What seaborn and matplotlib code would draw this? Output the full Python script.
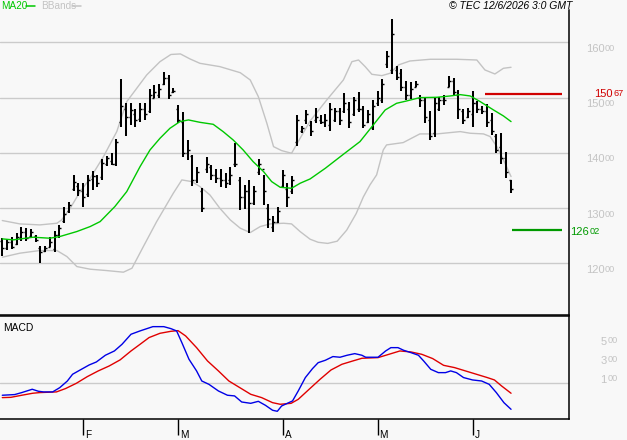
import numpy as np
import pandas as pd
import matplotlib
matplotlib.use("Agg")
import matplotlib.pyplot as plt
import matplotlib.transforms as mtransforms
import seaborn as sns

# ---------------- data ----------------
month_labels = ["F", "M", "A", "M", "J"]
month_pos = [17, 37, 59, 79, 99]

bar_high = [12450, 12435, 12470, 12555, 12650, 12630, 12615, 12515, 12315, 12315,
            12470, 12590, 12695, 13015, 13115, 13600, 13450, 13460, 13600, 13675,
            13600, 13880, 13950, 13990, 14245, 15335, 14895, 14910, 14790, 14895,
            14895, 15150, 15230, 15245, 15470, 15410, 15165, 14865, 14745, 14235,
            13960, 13750, 13360, 13920, 13780, 13700, 13700, 13640, 13740, 14185,
            13555, 13420, 13510, 13400, 13885, 13600, 13075, 12860, 13015, 13680,
            13460, 13580, 14685, 14490, 14770, 14575, 14805, 14685, 14700, 14895,
            14805, 14820, 15075, 14915, 15015, 15105, 14855, 14775, 14960, 15110,
            15335, 15840, 16420, 15575, 15510, 15300, 15290, 15305, 15047, 15005,
            14765, 15005, 15005, 15050, 15390, 15350, 15135, 14800, 14815, 15115,
            14940, 14848, 14875, 14728, 14335, 14365, 14010, 13515]
bar_low = [12130, 12240, 12255, 12330, 12410, 12395, 12470, 12380, 12000, 12210,
           12290, 12210, 12455, 12735, 12905, 13300, 13220, 13025, 13205, 13325,
           13390, 13510, 13770, 13780, 13760, 14475, 14305, 14505, 14475, 14565,
           14595, 14715, 14985, 14985, 15230, 14970, 15075, 14535, 13930, 13870,
           13400, 13450, 12920, 13630, 13510, 13450, 13390, 13360, 13420, 13740,
           12965, 12980, 12555, 13055, 13600, 13055, 12635, 12575, 12725, 13360,
           13025, 13255, 14125, 14355, 14530, 14310, 14535, 14515, 14475, 14395,
           14550, 14505, 14715, 14455, 14675, 14735, 14455, 14535, 14410, 14845,
           14910, 15530, 15425, 15320, 15125, 14950, 14980, 15190, 14830, 14547,
           14235, 14295, 14765, 14860, 15185, 15020, 14607, 14515, 14625, 14475,
           14720, 14695, 14475, 14330, 14004, 13805, 13540, 13268]
bar_open = [12400, 12280, 12380, 12350, 12450, 12560, 12500, 12500, 12280, 12230,
            12300, 12250, 12520, 12760, 12950, 13350, 13400, 13300, 13250, 13520,
            13580, 13560, 13800, 13850, 13800, 14550, 14800, 14650, 14700, 14620,
            14800, 14750, 15000, 15050, 15250, 15350, 15100, 14800, 14550, 14000,
            13950, 13500, 13300, 13700, 13750, 13600, 13550, 13500, 13500, 13800,
            13500, 13200, 13300, 13100, 13650, 13700, 13000, 12650, 12750, 13400,
            13350, 13300, 14200, 14400, 14600, 14500, 14600, 14600, 14550, 14500,
            14600, 14750, 14750, 14800, 14700, 14800, 14800, 14550, 14450, 14900,
            14950, 15600, 15500, 15500, 15450, 15200, 15050, 15200, 15000, 14950,
            14600, 14350, 14800, 14950, 15200, 15300, 15050, 14750, 14650, 14700,
            14900, 14800, 14750, 14600, 14300, 14100, 13900, 13500]
bar_close = [12280, 12380, 12300, 12480, 12560, 12450, 12560, 12430, 12200, 12280,
             12380, 12520, 12640, 12900, 13050, 13480, 13320, 13200, 13500, 13580,
             13450, 13820, 13900, 13800, 14200, 14850, 14650, 14780, 14600, 14800,
             14700, 15050, 15100, 15150, 15350, 15050, 15120, 14600, 14000, 14050,
             13500, 13650, 13000, 13800, 13600, 13550, 13500, 13450, 13600, 13800,
             13200, 13300, 13100, 13300, 13800, 13300, 12800, 12750, 12950, 13600,
             13200, 13500, 14600, 14450, 14700, 14400, 14650, 14550, 14600, 14800,
             14750, 14600, 14900, 14550, 14950, 14800, 14500, 14700, 14850, 15000,
             15250, 15750, 16150, 15380, 15200, 15050, 15150, 15250, 14950, 14650,
             14300, 14900, 14950, 14950, 15300, 15100, 14800, 14600, 14750, 14900,
             14800, 14750, 14550, 14400, 14050, 13900, 13650, 13350]

ma20_x = [0, 2.3, 6.5, 10, 12.1, 15.7, 18.5, 20.6, 23.7, 26.2, 29, 31.1, 33.2, 35.3,
          37.4, 39.2, 41.6, 44.4, 46.5, 48.6, 50.7, 52.8, 55, 56.7, 58.5, 60.9, 62.7,
          64.8, 68, 71.8, 75.3, 78.1, 80.6, 83, 85.1, 87.9, 91.5, 94.3, 96.4, 98.5,
          100.6, 103.4, 105.5, 107.1]
ma20_y = [12442, 12424, 12472, 12454, 12484, 12575, 12665, 12755, 13027, 13298, 13750,
          14052, 14263, 14444, 14565, 14595, 14552, 14516, 14383, 14233, 14052, 13841,
          13660, 13479, 13376, 13358, 13449, 13527, 13720, 13973, 14203, 14504, 14775,
          14896, 14938, 14999, 15005, 15029, 15053, 15029, 14927, 14776, 14667, 14565]

bb_up_x = [0, 3.7, 7.9, 11.5, 12.5, 14.3, 16.4, 18.5, 21.3, 24.1, 26.2, 28.3, 30.4,
           33.2, 35.5, 37.5, 39.5, 41.6, 45.8, 50.1, 52.2, 53.9, 55.7, 57.1, 58.8,
           60.9, 62.7, 64.8, 68.3, 71.8, 73.6, 75, 76.4, 77.8, 79.9, 81.6, 83.4, 85.8,
           90.1, 95.7, 99.9, 101.6, 103.7, 105.5, 107.1]
bb_up_y = [12774, 12713, 12695, 12725, 12786, 12997, 13298, 13539, 13931, 14384, 14926,
           15167, 15409, 15650, 15780, 15790, 15700, 15620, 15560, 15450, 15318, 15017,
           14534, 14112, 14040, 13992, 14263, 14576, 14956, 15318, 15650, 15680, 15559,
           15421, 15397, 15439, 15590, 15662, 15693, 15693, 15680, 15500, 15427, 15530,
           15548]

bb_lo_x = [0, 3.7, 7.9, 11.5, 13.6, 15.7, 18.5, 21.9, 25.5, 27.3, 29.7, 32.5, 36,
           37.8, 39.9, 41.6, 43.7, 45.8, 48, 50.1, 52.2, 54.3, 56.4, 59.2, 60.9, 62.7,
           64.8, 66.5, 68.5, 70.5, 72.5, 74.5, 76, 77.4, 78.8, 80.2, 80.9, 84.4, 87.9,
           91.5, 96.4, 98.5, 101.3, 102.7, 104.1, 105.5, 107.1]
bb_lo_y = [12110, 12183, 12231, 12231, 12122, 11941, 11893, 11869, 11839, 11911, 12303,
           12755, 13268, 13509, 13479, 13389, 13238, 12996, 12785, 12635, 12556, 12665,
           12713, 12725, 12713, 12574, 12436, 12380, 12360, 12400, 12600, 12900, 13200,
           13419, 13600, 14052, 14143, 14185, 14342, 14342, 14384, 14354, 14342, 14294,
           14113, 13871, 13570]

macd_x = [0, 2.6, 4.1, 6.3, 7.6, 8.7, 10.6, 12.1, 13.7, 14.8, 16.4, 18.3, 19.8, 21.7,
          23.6, 25.2, 27.1, 29.0, 31.7, 34.0, 35.5, 36.7, 37.8, 39.3, 40.9, 42.0, 43.5,
          45.5, 47.4, 48.9, 50.4, 52.3, 53.9, 55.4, 56.9, 57.9, 58.8, 60.0, 61.1, 62.3,
          63.8, 65.3, 66.5, 68.0, 69.6, 71.1, 72.6, 74.2, 75.7, 76.5, 79.1, 80.7, 81.8,
          83.3, 84.5, 86.0, 87.6, 88.7, 90.2, 91.8, 93.3, 94.4, 95.6, 97.1, 99.0, 100.9,
          102.5, 104.0, 105.6, 107.1]
macd_y = [-26, -19, 2, 37, 16, 9, 9, 54, 124, 195, 240, 293, 324, 395, 440, 510, 616,
          651, 696, 696, 675, 651, 528, 353, 230, 124, 89, 19, -26, -33, -97, -111, -90,
          -132, -184, -195, -139, -111, -86, 19, 160, 254, 317, 342, 381, 374, 395, 412,
          395, 374, 374, 440, 475, 475, 447, 423, 395, 335, 247, 212, 212, 230, 212, 160,
          135, 124, 89, 2, -104, -174]

signal_x = [0, 1.8, 4.1, 6.4, 7.9, 11.4, 13.3, 15.6, 17.9, 20.2, 22.5, 24.8, 27.1, 29.0,
            30.9, 33.2, 35.5, 37.0, 38.6, 40.9, 43.2, 45.5, 47.7, 50.0, 52.3, 54.6, 56.9,
            58.5, 60.8, 62.3, 64.6, 66.9, 69.2, 71.5, 73.8, 75.7, 79.1, 81.4, 83.7, 86.0,
            88.3, 90.6, 92.9, 95.2, 97.5, 99.8, 102.1, 103.6, 105.1, 107.1]
signal_y = [-51, -48, -26, -5, 2, 9, 44, 100, 170, 230, 282, 346, 440, 510, 581, 626,
            647, 654, 598, 475, 335, 230, 124, 54, -16, -51, -104, -121, -111, -69, 37,
            142, 240, 300, 335, 363, 370, 405, 440, 430, 405, 360, 289, 265, 230, 195, 160,
            135, 72, -5]

price_ticks = [12000, 13000, 14000, 15000, 16000]
macd_ticks = [100, 300, 500]
level_resistance = 15067
level_support = 12602

# ---------------- styling ----------------
sns.set_style("white")
from matplotlib import font_manager
_names = {f.name for f in font_manager.fontManager.ttflist}
FONT = "Liberation Sans" if "Liberation Sans" in _names else "DejaVu Sans"
plt.rcParams["font.family"] = [FONT, "DejaVu Sans"]

BG = "#f8f8f8"
GRID = "#cbcbcb"
LBL = "#c4c4c4"
FS_MAIN = 8.0
FS_SUP = 6.6

W, H = 627, 440
fig = plt.figure(figsize=(W / 100, H / 100), dpi=100, facecolor=BG)
ax = fig.add_axes([0, (H - 315) / H, 569 / W, 305 / H], facecolor=BG)
ax2 = fig.add_axes([0, (H - 419) / H, 569 / W, 103 / H], facecolor=BG)

xlim = (-0.48, 119.3)

# --- main panel ---
for v in price_ticks:
    ax.axhline(v, color=GRID, lw=1, zorder=0)

df_up = pd.DataFrame({"x": bb_up_x, "y": bb_up_y})
df_lo = pd.DataFrame({"x": bb_lo_x, "y": bb_lo_y})
df_ma = pd.DataFrame({"x": ma20_x, "y": ma20_y})
sns.lineplot(data=df_up, x="x", y="y", ax=ax, color="#c3c3c3", lw=1, legend=False,
             estimator=None, sort=False, zorder=1)
sns.lineplot(data=df_lo, x="x", y="y", ax=ax, color="#c3c3c3", lw=1, legend=False,
             estimator=None, sort=False, zorder=1)

idx = np.arange(len(bar_high))
ax.vlines(idx, bar_low, bar_high, color="black", lw=1.45, zorder=3)
ax.hlines(bar_open, idx - 0.42, idx, color="black", lw=1.0, zorder=3)
ax.hlines(bar_close, idx, idx + 0.42, color="black", lw=1.0, zorder=3)

sns.lineplot(data=df_ma, x="x", y="y", ax=ax, color="#00c800", lw=1, legend=False,
             estimator=None, sort=False, zorder=4)

ax.hlines(level_resistance, 101.6, 117.8, color="#d00000", lw=1.6, zorder=5)
ax.hlines(level_support, 107.3, 117.8, color="#009a00", lw=1.6, zorder=5)

ax.set_xlim(*xlim)
ax.set_ylim(11064, 16585)
ax.set_xticks([])
ax.set_yticks([])
ax.set_xlabel("")
ax.set_ylabel("")
for s in ["top", "left"]:
    ax.spines[s].set_visible(False)
for s in ["right", "bottom"]:
    ax.spines[s].set_visible(True)
    ax.spines[s].set_color("black")
    ax.spines[s].set_linewidth(1.1)


def poff(dx, dy):
    # pixel offset, dy positive = downward
    return mtransforms.ScaledTranslation(dx / 100, -dy / 100, fig.dpi_scale_trans)


tr_main = mtransforms.blended_transform_factory(fig.transFigure, ax.transData)
for v in price_ticks:
    main = str(v // 100)
    sup = "%02d" % (v % 100)
    ax.text(586 / W, v, main, transform=tr_main + poff(0, 1.5), va="top", ha="left",
            fontsize=FS_MAIN, color=LBL)
    ax.text(604.5 / W, v, sup, transform=tr_main + poff(0, 1.5), va="top", ha="left",
            fontsize=FS_SUP, color=LBL)

res_main, res_sup = str(int(level_resistance) // 100), "%02d" % (int(level_resistance) % 100)
sup_main, sup_sup = str(int(level_support) // 100), "%02d" % (int(level_support) % 100)
ax.text(594 / W, level_resistance, res_main, transform=tr_main + poff(0, -4.5), va="top",
        ha="left", fontsize=FS_MAIN, color="#d00000")
ax.text(613.5 / W, level_resistance, res_sup, transform=tr_main + poff(0, -5), va="top",
        ha="left", fontsize=FS_SUP, color="#d00000")
ax.text(570 / W, level_support, sup_main, transform=tr_main + poff(0, -3.5), va="top",
        ha="left", fontsize=FS_MAIN, color="#009a00")
ax.text(590 / W, level_support, sup_sup, transform=tr_main + poff(0, -3.5), va="top",
        ha="left", fontsize=FS_SUP, color="#009a00")

# --- MACD panel ---
ax2.axhline(100, color=GRID, lw=1, zorder=0)
df_macd = pd.DataFrame({"x": macd_x, "y": macd_y})
df_sig = pd.DataFrame({"x": signal_x, "y": signal_y})
sns.lineplot(data=df_macd, x="x", y="y", ax=ax2, color="#0000e6", lw=1, legend=False,
             estimator=None, sort=False, zorder=3)
sns.lineplot(data=df_sig, x="x", y="y", ax=ax2, color="#e00000", lw=1, legend=False,
             estimator=None, sort=False, zorder=2)
ax2.set_xlim(*xlim)
ax2.set_ylim(-276, 808)
ax2.set_yticks([])
ax2.set_xlabel("")
ax2.set_ylabel("")
ax2.set_xticks(month_pos)
ax2.set_xticklabels([""] * len(month_pos))
ax2.tick_params(axis="x", direction="out", length=11.5, width=1, color="black",
                bottom=True)
ax2.spines["left"].set_visible(False)
for s in ["top", "right", "bottom"]:
    ax2.spines[s].set_visible(True)
    ax2.spines[s].set_color("black")
    ax2.spines[s].set_linewidth(1.1)

tr_m = mtransforms.blended_transform_factory(ax2.transData, ax2.transAxes)
for p, lab in zip(month_pos, month_labels):
    ax2.text(p, 0, lab, transform=tr_m + poff(2, 18.5), va="baseline", ha="left",
             fontsize=7.2, color="black")

tr_mac = mtransforms.blended_transform_factory(fig.transFigure, ax2.transData)
for v in macd_ticks:
    ax2.text(600.5 / W, v, str(v // 100), transform=tr_mac, va="baseline", ha="left",
             fontsize=FS_MAIN, color=LBL)
    ax2.text(607.5 / W, v, "%02d" % (v % 100), transform=tr_mac + poff(0, -2),
             va="baseline", ha="left", fontsize=FS_SUP, color=LBL)

fig.text(3 / W, 1 - 328 / H, "MACD", va="center", ha="left", fontsize=7.4,
         color="black")

# --- header / legend ---
fig.text(1 / W, 1 - 6 / H, "MA20", va="center", ha="left", fontsize=7.2,
         color="#00c800")
fig.add_artist(plt.Line2D([26 / W, 35 / W], [1 - 6 / H, 1 - 6 / H],
                          transform=fig.transFigure, color="#00c800", lw=1.1))
fig.text(41 / W, 1 - 6 / H, "BBands", va="center", ha="left", fontsize=7.2,
         color="#c3c3c3")
fig.add_artist(plt.Line2D([72 / W, 81 / W], [1 - 6 / H, 1 - 6 / H],
                          transform=fig.transFigure, color="#c3c3c3", lw=1.1))
fig.text(449 / W, 1 - 6 / H, "\u00a9 TEC 12/6/2026 3:0 GMT", va="center", ha="left",
         fontsize=7.5, style="italic", color="black")

fig.savefig("out.png", dpi=100, facecolor=BG)
